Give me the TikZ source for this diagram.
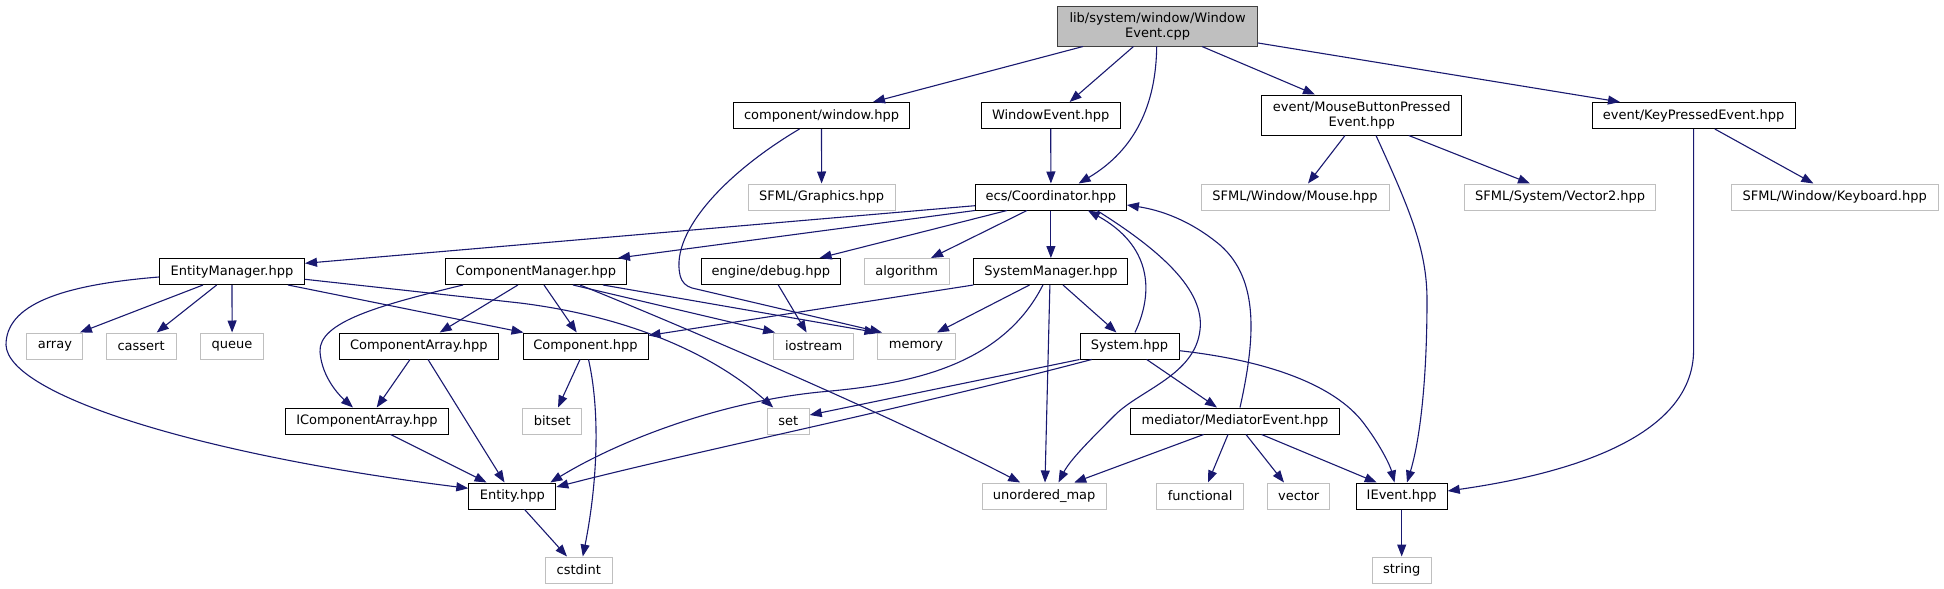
\documentclass[tikz,border=0pt]{standalone}
\usepackage{fontspec}
\setmainfont{DejaVu Sans}
\usetikzlibrary{arrows.meta}
\definecolor{edgec}{HTML}{191970}
\definecolor{greyb}{HTML}{BFBFBF}
\definecolor{mainb}{HTML}{404040}
\begin{document}
\begin{tikzpicture}[x=1pt,y=-1pt,
  box/.style={draw=black,line width=1pt,fill=white,inner sep=0pt,minimum height=26pt,font=\fontsize{13}{15}\selectfont,text=black,align=center},
  ext/.style={box,draw=greyb},
  edge/.style={draw=edgec,line width=1.1pt,-{Triangle[length=12pt,width=9pt]}}]
\useasboundingbox[fill=white] (0,0) rectangle (1944,589);
% row 0
\node[box,minimum width=200pt,minimum height=40pt,fill=greyb,draw=mainb] (main) at (1157.6,26) {lib/system/window/Window\\Event.cpp};
% row 1
\node[box,minimum width=176pt] (cwin) at (821.5,115.5) {component/window.hpp};
\node[box,minimum width=139pt] (wev) at (1050.7,115.5) {WindowEvent.hpp};
\node[box,minimum width=200pt,minimum height=40pt] (mbpe) at (1361.7,115) {event/MouseButtonPressed\\Event.hpp};
\node[box,minimum width=203pt] (kpe) at (1693.6,115.5) {event/KeyPressedEvent.hpp};
% row 2
\node[ext,minimum width=147pt] (gfx) at (821.6,197) {SFML/Graphics.hpp};
\node[box,minimum width=151pt] (coord) at (1050.9,197) {ecs/Coordinator.hpp};
\node[ext,minimum width=188pt] (mouse) at (1295,197) {SFML/Window/Mouse.hpp};
\node[ext,minimum width=191pt] (vec2) at (1560.2,197) {SFML/System/Vector2.hpp};
\node[ext,minimum width=207pt] (kbd) at (1834.7,197) {SFML/Window/Keyboard.hpp};
% row 3
\node[box,minimum width=145pt] (em) at (232,271.5) {EntityManager.hpp};
\node[box,minimum width=181pt] (cm) at (536,271.5) {ComponentManager.hpp};
\node[box,minimum width=139pt] (dbg) at (770.8,271.5) {engine/debug.hpp};
\node[ext,minimum width=85pt] (alg) at (906.7,271.5) {algorithm};
\node[box,minimum width=154pt] (sm) at (1050.9,271.5) {SystemManager.hpp};
% row 4
\node[ext,minimum width=56pt] (arr) at (54.9,346) {array};
\node[ext,minimum width=70pt] (cas) at (141.1,346) {cassert};
\node[ext,minimum width=62.5pt] (que) at (232.1,346) {queue};
\node[box,minimum width=159pt] (ca) at (418.8,346) {ComponentArray.hpp};
\node[box,minimum width=125pt] (comp) at (585.5,346) {Component.hpp};
\node[ext,minimum width=80pt] (ios) at (813.6,346) {iostream};
\node[ext,minimum width=78pt] (mem) at (916,346) {memory};
\node[box,minimum width=99pt] (sys) at (1129.5,346) {System.hpp};
% row 5
\node[box,minimum width=162.5pt] (ica) at (367,421) {IComponentArray.hpp};
\node[ext,minimum width=59pt] (bits) at (552.2,421) {bitset};
\node[ext,minimum width=42pt] (set) at (788.2,421) {set};
\node[box,minimum width=208.5pt] (med) at (1235,421) {mediator/MediatorEvent.hpp};
% row 6
\node[box,minimum width=87pt] (ent) at (512.3,496) {Entity.hpp};
\node[ext,minimum width=124pt] (umap) at (1044.2,496) {unordered\_map};
\node[ext,minimum width=87pt] (func) at (1200.2,496) {functional};
\node[ext,minimum width=62.5pt] (vec) at (1298.7,496) {vector};
\node[box,minimum width=91pt] (iev) at (1401.7,496) {IEvent.hpp};
% row 7
\node[ext,minimum width=66.6pt] (cstd) at (578.8,570) {cstdint};
\node[ext,minimum width=59pt] (str) at (1401.7,570) {string};

% edges from main
\draw[edge] ([xshift=-74.6pt]main.south) -- ([xshift=51.5pt]cwin.north);
\draw[edge] ([xshift=-24.1pt]main.south) -- ([xshift=18.9pt]wev.north);
\draw[edge] ([xshift=-0.9pt]main.south) .. controls (1156,105) and (1135,150) .. ([xshift=27.7pt]coord.north);
\draw[edge] ([xshift=44.4pt]main.south) -- ([xshift=-46.7pt]mbpe.north);
\draw[edge] ([yshift=-17pt]main.east) -- ([xshift=-73.6pt]kpe.north);
% row 1 edges
\draw[edge] (cwin.south) -- (gfx.north);
\draw[edge] ([xshift=-22pt]cwin.south) .. controls (730,170) and (670,230) .. (680,275) .. controls (682,283) and (686,286) .. (692,288) -- ([xshift=-34pt]mem.north);
\draw[edge] (wev.south) -- (coord.north);
\draw[edge] ([xshift=-16.7pt]mbpe.south) -- ([xshift=13pt]mouse.north);
\draw[edge] ([xshift=47.1pt]mbpe.south) -- ([xshift=-30.2pt]vec2.north);
\draw[edge] ([xshift=14.3pt]mbpe.south) .. controls (1410,210) and (1427,250) .. (1427,300) .. controls (1427,380) and (1420,440) .. ([xshift=5.3pt]iev.north);
\draw[edge] ([xshift=21.2pt]kpe.south) -- ([xshift=-21.3pt]kbd.north);
\draw[edge] (kpe.south) -- (1693.6,350) .. controls (1693.6,440) and (1560,475) .. ([yshift=5pt]iev.east);
% coordinator edges
\draw[edge] ([yshift=-8.7pt]coord.west) -- ([yshift=8.2pt]em.east);
\draw[edge] (coord.south west) -- ([xshift=-9pt]cm.north east);
\draw[edge] ([xshift=-43.9pt]coord.south) -- ([xshift=48.8pt]dbg.north);
\draw[edge] ([xshift=-23.9pt]coord.south) -- ([xshift=24.3pt]alg.north);
\draw[edge] (coord.south) -- (sm.north);
\draw[edge] ([xshift=46pt]coord.south) .. controls (1160,250) and (1205,290) .. (1200,330) .. controls (1195,375) and (1140,390) .. (1115,415) .. controls (1090,440) and (1070,460) .. ([xshift=14.3pt]umap.north);
% entity manager edges
\draw[edge] ([xshift=-29pt]em.south) -- ([xshift=25pt]arr.north);
\draw[edge] ([xshift=-15.3pt]em.south) -- ([xshift=15.6pt]cas.north);
\draw[edge] (em.south) -- (que.north);
\draw[edge] ([xshift=56pt]em.south) -- ([xshift=1pt]comp.north west);
\draw[edge] ([yshift=-7.8pt]em.east) -- (520,303) .. controls (640,318) and (720,360) .. ([xshift=-15pt]set.north);
\draw[edge] ([yshift=-5.5pt]em.west) .. controls (60,285) and (6,305) .. (6,345) .. controls (8,395) and (200,455) .. ([yshift=7.7pt]ent.west);
% component manager edges
\draw[edge] ([xshift=-73pt]cm.south) .. controls (380,305) and (318,322) .. (320,352) .. controls (322,378) and (340,396) .. ([xshift=-14pt]ica.north);
\draw[edge] ([xshift=-18.1pt]cm.south) -- ([xshift=20.9pt]ca.north);
\draw[edge] ([xshift=8pt]cm.south) -- ([xshift=-8.8pt]comp.north);
\draw[edge] ([xshift=37pt]cm.south) -- ([xshift=2pt]ios.north west);
\draw[edge] ([xshift=67pt]cm.south) -- (mem.north west);
\draw[edge] ([xshift=44pt]cm.south) .. controls (680,325) and (900,420) .. ([xshift=-24pt]umap.north);
% engine/debug
\draw[edge] ([xshift=7.5pt]dbg.south) -- ([xshift=-7pt]ios.north);
% system manager edges
\draw[edge] (sm.south west) -- ([yshift=-3pt]comp.north east);
\draw[edge] ([xshift=-21.4pt]sm.south) -- ([xshift=21pt]mem.north);
\draw[edge] ([xshift=12.1pt]sm.south) -- ([xshift=-13pt]sys.north);
\draw[edge] ([xshift=-1pt]sm.south) -- ([xshift=0.8pt]umap.north);
\draw[edge] ([xshift=-8pt]sm.south) .. controls (1000,370) and (900,385) .. (820,392) .. controls (720,402) and (620,440) .. ([xshift=-6pt]ent.north east);
% system edges
\draw[edge] (sys.south west) -- ([yshift=6pt]set.east);
\draw[edge] ([xshift=-37.8pt]sys.south) .. controls (900,410) and (700,450) .. ([yshift=9pt]ent.east);
\draw[edge] ([xshift=17.2pt]sys.south) -- ([xshift=-18pt]med.north);
\draw[edge] ([yshift=-4.7pt]sys.east) .. controls (1280,362) and (1340,390) .. (1365,425) .. controls (1380,445) and (1390,465) .. ([xshift=-7.2pt]iev.north);
\draw[edge] ([xshift=5.5pt]sys.north) .. controls (1155,290) and (1150,245) .. ([xshift=37pt]coord.south);
% mediator edges
\draw[edge] ([xshift=-31.4pt]med.south) -- ([xshift=30pt]umap.north);
\draw[edge] ([xshift=-7pt]med.south) -- ([xshift=7.8pt]func.north);
\draw[edge] ([xshift=11pt]med.south) -- ([xshift=-14.7pt]vec.north);
\draw[edge] ([xshift=26.6pt]med.south) -- ([xshift=-25pt]iev.north);
\draw[edge] ([xshift=5pt]med.north) .. controls (1255,340) and (1260,280) .. (1220,245) .. controls (1190,220) and (1160,210) .. ([yshift=-8pt]coord.east);
% component, arrays, entity
\draw[edge] ([xshift=-5.5pt]comp.south) -- ([xshift=5.8pt]bits.north);
\draw[edge] ([xshift=3pt]comp.south) .. controls (600,410) and (598,480) .. ([xshift=4pt]cstd.north);
\draw[edge] ([xshift=-8.8pt]ca.south) -- ([xshift=9.7pt]ica.north);
\draw[edge] ([xshift=9.2pt]ca.south) -- ([xshift=-7.8pt]ent.north);
\draw[edge] ([xshift=23.6pt]ica.south) -- ([xshift=-25.7pt]ent.north);
\draw[edge] ([xshift=12.3pt]ent.south) -- ([xshift=-11.8pt]cstd.north);
\draw[edge] (iev.south) -- (str.north);
\end{tikzpicture}
\end{document}
